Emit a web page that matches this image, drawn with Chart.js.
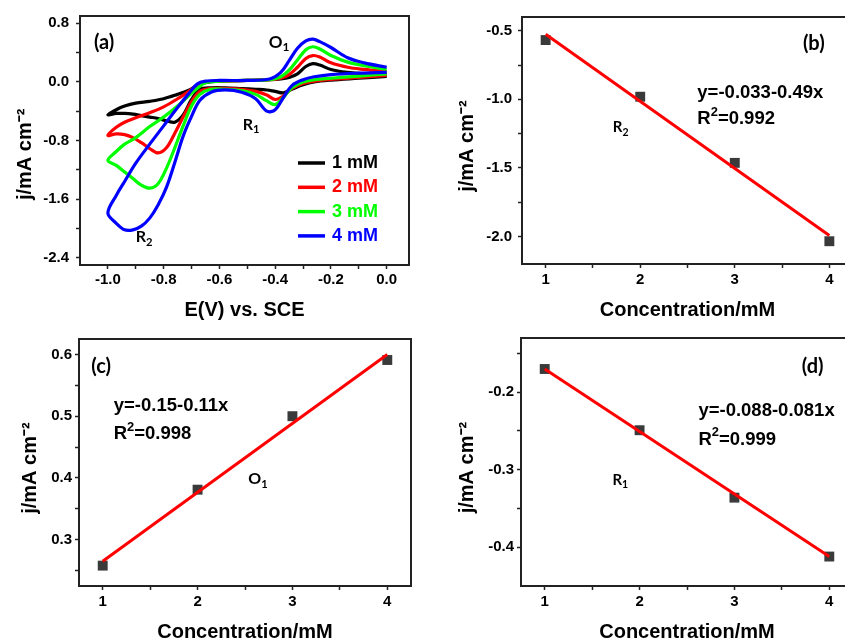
<!DOCTYPE html>
<html>
<head>
<meta charset="utf-8">
<script src="https://cdn.jsdelivr.net/npm/chart.js@4.4.0/dist/chart.umd.min.js"></script>
<style>
  html, body { margin: 0; padding: 0; background: #fff; overflow: hidden; }
  body { width: 845px; height: 639px; position: relative; }
  .panel { position: absolute; }
</style>
</head>
<body>
<div class="panel" style="left:0;top:0;width:420px;height:320px"><canvas id="cvA"></canvas></div>
<div class="panel" style="left:420px;top:0;width:440px;height:320px"><canvas id="cvB"></canvas></div>
<div class="panel" style="left:0;top:320px;width:420px;height:319px"><canvas id="cvC"></canvas></div>
<div class="panel" style="left:420px;top:320px;width:440px;height:319px"><canvas id="cvD"></canvas></div>
<script>
// (a) cyclic voltammograms: one sweep 0 -> -1.0 -> 0 V shared by all four runs
const sweepPotential = [
  0, -0.1, -0.2, -0.26, -0.3, -0.34, -0.37, -0.4, -0.43, -0.47, -0.52, -0.58, -0.63,
  -0.67, -0.7, -0.73, -0.76, -0.79, -0.82, -0.85, -0.88, -0.91, -0.94, -0.97, -1.0,
  -0.97, -0.94, -0.9, -0.85, -0.8, -0.75, -0.71, -0.68, -0.65, -0.6, -0.5, -0.42,
  -0.38, -0.35, -0.32, -0.29, -0.265, -0.24, -0.2, -0.14, -0.08, 0.0,
];
const cv1mM = [
  0.075, 0.05, 0.025, 0.0, -0.04, -0.1, -0.15, -0.13, -0.11, -0.1, -0.09, -0.08, -0.08,
  -0.1, -0.24, -0.45, -0.55, -0.53, -0.5, -0.48, -0.46, -0.44, -0.43, -0.43, -0.45,
  -0.38, -0.33, -0.29, -0.265, -0.23, -0.17, -0.115, -0.05, -0.01, 0.01, 0.02, 0.03,
  0.04, 0.06, 0.11, 0.21, 0.25, 0.23, 0.17, 0.13, 0.11, 0.1,
];
const cv2mM = [
  0.09, 0.06, 0.035, 0.01, -0.02, -0.09, -0.19, -0.24, -0.18, -0.13, -0.1, -0.09, -0.09,
  -0.13, -0.27, -0.48, -0.7, -0.9, -0.97, -0.91, -0.83, -0.76, -0.72, -0.71, -0.73,
  -0.62, -0.55, -0.49, -0.42, -0.34, -0.23, -0.13, -0.05, 0.0, 0.01, 0.02, 0.03,
  0.05, 0.1, 0.2, 0.32, 0.36, 0.34, 0.26, 0.2, 0.17, 0.14,
];
const cv3mM = [
  0.11, 0.08, 0.05, 0.03, 0.0, -0.08, -0.21, -0.31, -0.26, -0.17, -0.12, -0.1, -0.1,
  -0.17, -0.33, -0.6, -0.9, -1.18, -1.39, -1.45, -1.41, -1.32, -1.23, -1.14, -1.07,
  -0.95, -0.85, -0.76, -0.61, -0.48, -0.33, -0.19, -0.09, -0.01, 0.01, 0.02, 0.03,
  0.07, 0.16, 0.3, 0.44, 0.48, 0.45, 0.36, 0.27, 0.22, 0.17,
];
const cv4mM = [
  0.13, 0.12, 0.1, 0.07, 0.03, -0.05, -0.21, -0.38, -0.4, -0.23, -0.14, -0.11, -0.14,
  -0.25, -0.47, -0.74, -1.1, -1.44, -1.68, -1.86, -1.97, -2.02, -2.02, -1.93, -1.79,
  -1.55, -1.36, -1.11, -0.85, -0.6, -0.35, -0.16, -0.03, 0.01, 0.02, 0.02, 0.04,
  0.13, 0.29, 0.46, 0.56, 0.585, 0.55, 0.47, 0.33, 0.26, 0.2,
];
const concentrations = ["1 mM", "2 mM", "3 mM", "4 mM"];

// (b)-(d) peak current vs concentration, with the fitted line ends
const concentrationMM = [1, 2, 3, 4];
const fitEnds = [1, 4];
const peakR2 = [-0.568, -0.981, -1.463, -2.034];
const fitR2 = [-0.526, -1.993];
const peakO1 = [0.258, 0.381, 0.5, 0.591];
const fitO1 = [0.265, 0.6];
const peakR1 = [-0.17, -0.249, -0.336, -0.412];
const fitR1 = [-0.17, -0.412];

// labelled ticks
const potentialTicks = [-1.0, -0.8, -0.6, -0.4, -0.2, 0.0];
const currentTicks = [-2.4, -1.6, -0.8, 0.0, 0.8];
const concTicks = [1, 2, 3, 4];
const r2Ticks = [-2.0, -1.5, -1.0, -0.5];
const o1Ticks = [0.3, 0.4, 0.5, 0.6];
const r1Ticks = [-0.4, -0.3, -0.2];

const cvColors = ["#000000", "#ff0000", "#00ff00", "#0000ff"];
const FONT = "'Liberation Sans', Arial, sans-serif";
const LABEL_FONT = "Lato, 'Open Sans', sans-serif";
const Y_TITLE = "j/mA cm\u207B\u00B2";

// majors plus a minor tick half way between them
function allTicks(majors, min, max) {
  const step = majors[1] - majors[0];
  const out = majors.slice();
  for (let k = -1; k < majors.length; k++) {
    const v = majors[0] + (k + 0.5) * step;
    if (v > min + 1e-9 && v < max - 1e-9) out.push(v);
  }
  return out.sort((a, b) => a - b);
}

function makeAxis(o) {
  return {
    type: "linear",
    position: o.position,
    min: o.min,
    max: o.max,
    afterBuildTicks: (scale) => {
      scale.ticks = allTicks(o.majors, o.min, o.max).map((v) => ({ value: v }));
    },
    afterFit: (scale) => {
      if (scale.isHorizontal()) scale.height = o.size;
      else scale.width = o.size;
    },
    grid: {
      drawOnChartArea: false,
      drawTicks: true,
      tickLength: 4,
      tickWidth: 1.5,
      tickColor: "#222",
    },
    border: { display: false },
    ticks: {
      padding: o.pad,
      color: "#000",
      autoSkip: false,
      maxRotation: 0,
      font: { family: FONT, size: 15, weight: "bold" },
      callback: (v) => {
        const major = o.majors.some((m) => Math.abs(m - v) < 1e-9);
        return major ? Number(v).toFixed(o.decimals) : "";
      },
    },
    title: {
      display: true,
      text: o.title,
      color: "#000",
      font: { family: FONT, size: 20, weight: "bold", lineHeight: 1 },
      padding: o.titlePad,
    },
  };
}

const framePlugin = {
  id: "frame",
  afterDatasetsDraw(chart) {
    const { ctx, chartArea: a } = chart;
    ctx.save();
    ctx.strokeStyle = "#222";
    ctx.lineWidth = 2;
    ctx.strokeRect(a.left, a.top, a.right - a.left, a.bottom - a.top);
    ctx.restore();
  },
};

// text with "_x" subscript and "^x" superscript
function drawRich(ctx, str, x, y, size, family) {
  const parts = str.match(/[_^].|[^_^]+/g);
  let cx = x;
  parts.forEach((p) => {
    let s = size, dy = 0, t = p;
    if (p[0] === "_" || p[0] === "^") {
      t = p.slice(1);
      s = size * 0.7;
      dy = p[0] === "_" ? size * 0.32 : -size * 0.38;
    }
    ctx.font = "bold " + s + "px " + family;
    ctx.fillText(t, cx, y + dy);
    cx += ctx.measureText(t).width;
  });
}

function notesPlugin(notes) {
  return {
    id: "notes",
    afterDraw(chart) {
      const { ctx, scales } = chart;
      ctx.save();
      ctx.textBaseline = "middle";
      ctx.fillStyle = "#000";
      notes.forEach((n) => {
        const x = scales.x.getPixelForValue(n.x);
        const y = scales.y.getPixelForValue(n.y);
        drawRich(ctx, n.text, x, y, n.size, n.family || FONT);
      });
      ctx.restore();
    },
  };
}

const cvLegend = {
  id: "cvLegend",
  afterDraw(chart) {
    const { ctx, chartArea: a } = chart;
    ctx.save();
    ctx.font = "bold 18px " + FONT;
    ctx.textBaseline = "middle";
    chart.data.datasets.forEach((ds, i) => {
      const y = a.top + 147 + i * 24.3;
      ctx.strokeStyle = ds.borderColor;
      ctx.lineWidth = 3.5;
      ctx.beginPath();
      ctx.moveTo(a.left + 218, y);
      ctx.lineTo(a.left + 245, y);
      ctx.stroke();
      ctx.fillStyle = ds.borderColor;
      ctx.fillText(ds.label, a.left + 252, y);
    });
    ctx.restore();
  },
};

const baseOptions = {
  responsive: true,
  maintainAspectRatio: false,
  animation: false,
  plugins: { legend: { display: false }, tooltip: { enabled: false } },
};

// panel (a)
const cvCurrent = [cv1mM, cv2mM, cv3mM, cv4mM];
new Chart(document.getElementById("cvA"), {
  type: "scatter",
  data: {
    datasets: concentrations.map((label, i) => ({
      label: label,
      data: sweepPotential.map((e, k) => ({ x: e, y: cvCurrent[i][k] })),
      borderColor: cvColors[i],
      backgroundColor: cvColors[i],
      borderWidth: 3.2,
      pointRadius: 0,
      showLine: true,
      tension: 0.35,
      order: 3 - i,
    })),
  },
  options: {
    ...baseOptions,
    layout: { padding: { top: 16, right: 11, bottom: 0, left: 0 } },
    scales: {
      x: makeAxis({
        position: "bottom", min: -1.1, max: 0.08, majors: potentialTicks, decimals: 1,
        size: 55, pad: 2, title: "E(V) vs. SCE", titlePad: { top: 0, bottom: 0 },
      }),
      y: makeAxis({
        position: "left", min: -2.5, max: 0.9, majors: currentTicks, decimals: 1,
        size: 80, pad: 7, title: Y_TITLE + "     ", titlePad: { top: 15, bottom: 0 },
      }),
    },
  },
  plugins: [
    framePlugin,
    cvLegend,
    notesPlugin([
      { text: "(a)", x: -1.05, y: 0.544, size: 20, family: LABEL_FONT },
      { text: "O_1", x: -0.423, y: 0.544, size: 17, family: LABEL_FONT },
      { text: "R_1", x: -0.516, y: -0.58, size: 16, family: LABEL_FONT },
      { text: "R_2", x: -0.9, y: -2.12, size: 16, family: LABEL_FONT },
    ]),
  ],
});

function fitPanel(id, peaks, fit, o) {
  return new Chart(document.getElementById(id), {
    type: "scatter",
    data: {
      datasets: [
        {
          data: fitEnds.map((c, k) => ({ x: c, y: fit[k] })),
          showLine: true,
          borderColor: "#ff0000",
          borderWidth: 3,
          pointRadius: 0,
        },
        {
          data: concentrationMM.map((c, k) => ({ x: c, y: peaks[k] })),
          pointStyle: "rect",
          pointRadius: 7,
          backgroundColor: "#3a3a3a",
          borderColor: "#3a3a3a",
          borderWidth: 0,
        },
      ],
    },
    options: {
      ...baseOptions,
      layout: { padding: o.padding },
      scales: {
        x: makeAxis({
          position: "bottom", min: 0.75, max: 4.25, majors: concTicks, decimals: 0,
          size: o.xSize, pad: 3, title: "Concentration/mM", titlePad: { top: 0, bottom: o.xTitlePad },
        }),
        y: makeAxis({
          position: "left", min: o.min, max: o.max, majors: o.majors, decimals: 1,
          size: o.ySize, pad: o.yPad, title: Y_TITLE + "  ", titlePad: { top: o.yTitlePad, bottom: 0 },
        }),
      },
    },
    plugins: [framePlugin, notesPlugin(o.notes)],
  });
}

fitPanel("cvB", peakR2, fitR2, {
  min: -2.2, max: -0.4, majors: r2Ticks,
  padding: { top: 17, right: 4, bottom: 0, left: 0 },
  xSize: 56, ySize: 102, yPad: 6, yTitlePad: 37, xTitlePad: 0,
  notes: [
    { text: "(b)", x: 3.72, y: -0.59, size: 20, family: LABEL_FONT },
    { text: "y=-0.033-0.49x", x: 2.604, y: -0.955, size: 18.5 },
    { text: "R^2=0.992", x: 2.604, y: -1.145, size: 18.5 },
    { text: "R_2", x: 1.71, y: -1.204, size: 15, family: LABEL_FONT },
  ],
});

fitPanel("cvC", peakO1, fitO1, {
  min: 0.225, max: 0.625, majors: o1Ticks,
  padding: { top: 19, right: 9, bottom: 0, left: 0 },
  xSize: 53, ySize: 79, yPad: 3, yTitlePad: 20, xTitlePad: -3,
  notes: [
    { text: "(c)", x: 0.88, y: 0.58, size: 20, family: LABEL_FONT },
    { text: "y=-0.15-0.11x", x: 1.116, y: 0.516, size: 18.5 },
    { text: "R^2=0.998", x: 1.116, y: 0.471, size: 18.5 },
    { text: "O_1", x: 2.534, y: 0.398, size: 16, family: LABEL_FONT },
  ],
});

fitPanel("cvD", peakR1, fitR1, {
  min: -0.45, max: -0.13, majors: r1Ticks,
  padding: { top: 18, right: 4, bottom: 0, left: 0 },
  xSize: 53, ySize: 101, yPad: 3, yTitlePad: 37, xTitlePad: -3,
  notes: [
    { text: "(d)", x: 3.71, y: -0.167, size: 20, family: LABEL_FONT },
    { text: "y=-0.088-0.081x", x: 2.62, y: -0.224, size: 18.5 },
    { text: "R^2=0.999", x: 2.62, y: -0.261, size: 18.5 },
    { text: "R_1", x: 1.714, y: -0.313, size: 15, family: LABEL_FONT },
  ],
});
</script>
</body>
</html>
